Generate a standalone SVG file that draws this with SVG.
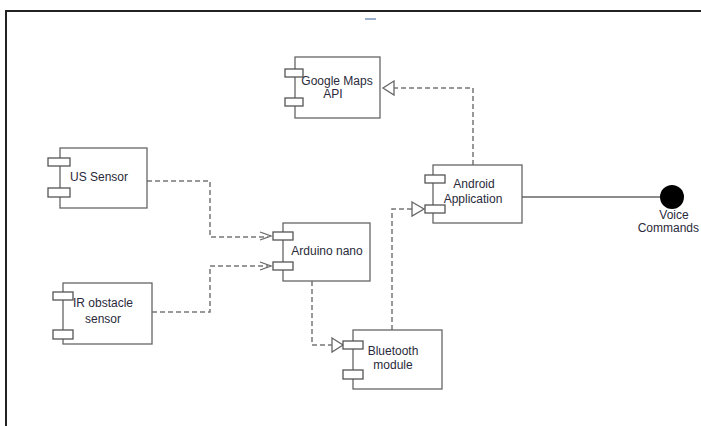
<svg xmlns="http://www.w3.org/2000/svg" width="701" height="426" viewBox="0 0 701 426">
<style>
.box{fill:#fff;stroke:#666;stroke-width:1.3}
.port{fill:#fff;stroke:#555;stroke-width:1.3}
.t{font-family:"Liberation Sans",Arial,sans-serif;font-size:12px;fill:#2a2a3a;text-anchor:middle}
.dash{fill:none;stroke:#777;stroke-width:1.5;stroke-dasharray:5,3}
.solid{fill:none;stroke:#666;stroke-width:1.3}
.tri{fill:#fff;stroke:#666;stroke-width:1.3}
.open{fill:none;stroke:#666;stroke-width:1.3}
</style>
<rect width="701" height="426" fill="#fff"/>
<path d="M6,426 V11 H701" fill="none" stroke="#222" stroke-width="2"/>
<rect x="365" y="18" width="11" height="2" fill="#9ab0cc"/>
<g id="connectors">
<path class="dash" d="M147,181 H210 V237 H268"/>
<path class="open" d="M260,232 L271,236 L260,240"/>
<path class="dash" d="M152,312 H210 V266 H268"/>
<path class="open" d="M260,262 L271,266 L260,270"/>
<path class="dash" d="M312,281 V345 H332"/>
<path class="tri" d="M332,338 L343,345 L332,352 Z"/>
<path class="dash" d="M392,330 V209 H412"/>
<path class="tri" d="M412,202 L424,209 L412,216 Z"/>
<path class="dash" d="M473,165 V88 H394"/>
<path class="tri" d="M394,81 L383,88 L394,95 Z"/>
<path class="solid" d="M522,197 H660"/>
</g>
<g id="google-maps">
<rect class="box" x="295" y="57" width="85" height="61"/>
<rect class="port" x="285" y="69" width="18" height="8"/>
<rect class="port" x="285" y="98" width="18" height="8"/>
<text class="t" x="337" y="85">Google Maps</text>
<text class="t" x="333" y="98">API</text>
</g>
<g id="us-sensor">
<rect class="box" x="60" y="148" width="87" height="60"/>
<rect class="port" x="48" y="158" width="22" height="8"/>
<rect class="port" x="48" y="188" width="22" height="9"/>
<text class="t" x="99" y="181">US Sensor</text>
</g>
<g id="ir-sensor">
<rect class="box" x="63" y="283" width="89" height="61"/>
<rect class="port" x="53" y="292" width="20" height="8"/>
<rect class="port" x="53" y="330" width="20" height="9"/>
<text class="t" x="103" y="307">IR obstacle</text>
<text class="t" x="103" y="323">sensor</text>
</g>
<g id="arduino">
<rect class="box" x="283" y="223" width="87" height="58"/>
<rect class="port" x="273" y="232" width="20" height="8"/>
<rect class="port" x="273" y="262" width="20" height="8"/>
<text class="t" x="327" y="255">Arduino nano</text>
</g>
<g id="bluetooth">
<rect class="box" x="353" y="330" width="89" height="59"/>
<rect class="port" x="343" y="341" width="20" height="8"/>
<rect class="port" x="343" y="370" width="20" height="9"/>
<text class="t" x="393" y="355">Bluetooth</text>
<text class="t" x="393" y="369">module</text>
</g>
<g id="android">
<rect class="box" x="433" y="165" width="89" height="58"/>
<rect class="port" x="425" y="175" width="20" height="8"/>
<rect class="port" x="425" y="205" width="20" height="8"/>
<text class="t" x="474" y="188">Android</text>
<text class="t" x="473" y="203">Application</text>
</g>
<g id="voice-commands">
<circle cx="672" cy="197" r="12" fill="#000"/>
<text class="t" x="674" y="219">Voice</text>
<text class="t" x="699" y="232" style="text-anchor:end">Commands</text>
</g>
</svg>
